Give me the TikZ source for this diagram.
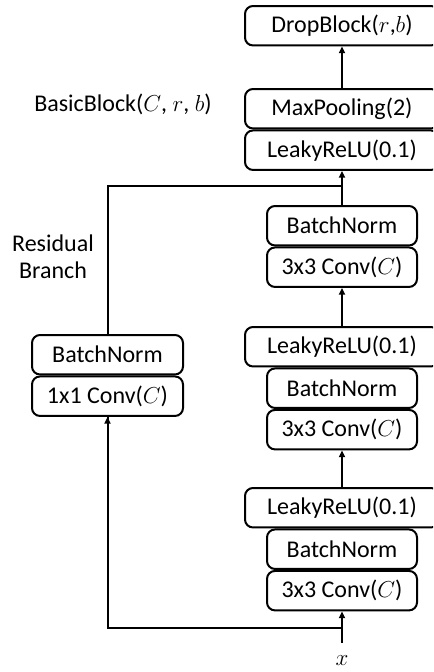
\documentclass[tikz,border=0pt]{standalone}
\usepackage{fontspec}
\setmainfont{Carlito}
\usetikzlibrary{arrows.meta}
\begin{document}
\begin{tikzpicture}[x=0.75pt,y=-0.75pt,
  box/.style={draw, line width=1.5pt, rounded corners=6pt, minimum height=29.6pt, inner sep=0pt,
    font=\fontsize{18}{22}\selectfont},
  wide/.style={box, minimum width=145.5pt},
  narrow/.style={box, minimum width=112.5pt},
  conn/.style={line width=1.5pt},
  arr/.style={conn, -{Triangle[length=5pt,width=4.5pt]}},
  lbl/.style={font=\fontsize{18}{22}\selectfont, align=center}]
\clip (0,0) rectangle (433,672);
% right column
\node[wide, anchor=north] (drop) at (342,5) {DropBlock($r$,$b$)};
\node[wide, anchor=north] (maxp) at (342,88) {MaxPooling(2)};
\node[wide, anchor=north] (lr1) at (maxp.south) {LeakyReLU(0.1)};
\node[narrow, anchor=north] (bn1) at (342,205) {BatchNorm};
\node[narrow, anchor=north] (cv1) at (bn1.south) {3x3 Conv($C$)};
\node[wide, anchor=north] (lr2) at (342,326) {LeakyReLU(0.1)};
\node[narrow, anchor=north] (bn2) at (lr2.south) {BatchNorm};
\node[narrow, anchor=north] (cv2) at (bn2.south) {3x3 Conv($C$)};
\node[wide, anchor=north] (lr3) at (342,487) {LeakyReLU(0.1)};
\node[narrow, anchor=north] (bn3) at (lr3.south) {BatchNorm};
\node[narrow, anchor=north] (cv3) at (bn3.south) {3x3 Conv($C$)};
% left column
\node[box, minimum width=113.25pt, anchor=north] (lbn) at (107.5,334) {BatchNorm};
\node[box, minimum width=113.25pt, anchor=north] (lcv) at (lbn.south) {1x1 Conv($C$)};
% labels
\node[lbl] (title) at (123,104) {BasicBlock($C$, $r$, $b$)};
\node[lbl] (res) at (53,257) {Residual\\[-1.5pt]Branch};
\node[font=\fontsize{19}{22}\selectfont, inner sep=0pt] (xin) at (342,661) {$x$};
\coordinate (xst) at (342,643);
\coordinate (jb) at (342,628);
\coordinate (jt) at (342,186);
% connectors
\draw[arr] (xst) -- (cv3.south);
\draw[conn] (jb) -| (lcv.south);
\draw[arr] (lcv |- jb) -- (lcv.south);
\draw[conn] (lbn.north) |- (jt);
\draw[arr] (bn1.north) -- (lr1.south);
\draw[arr] (lr2.north) -- (cv1.south);
\draw[arr] (lr3.north) -- (cv2.south);
\draw[arr] (maxp.north) -- (drop.south);
\end{tikzpicture}
\end{document}
